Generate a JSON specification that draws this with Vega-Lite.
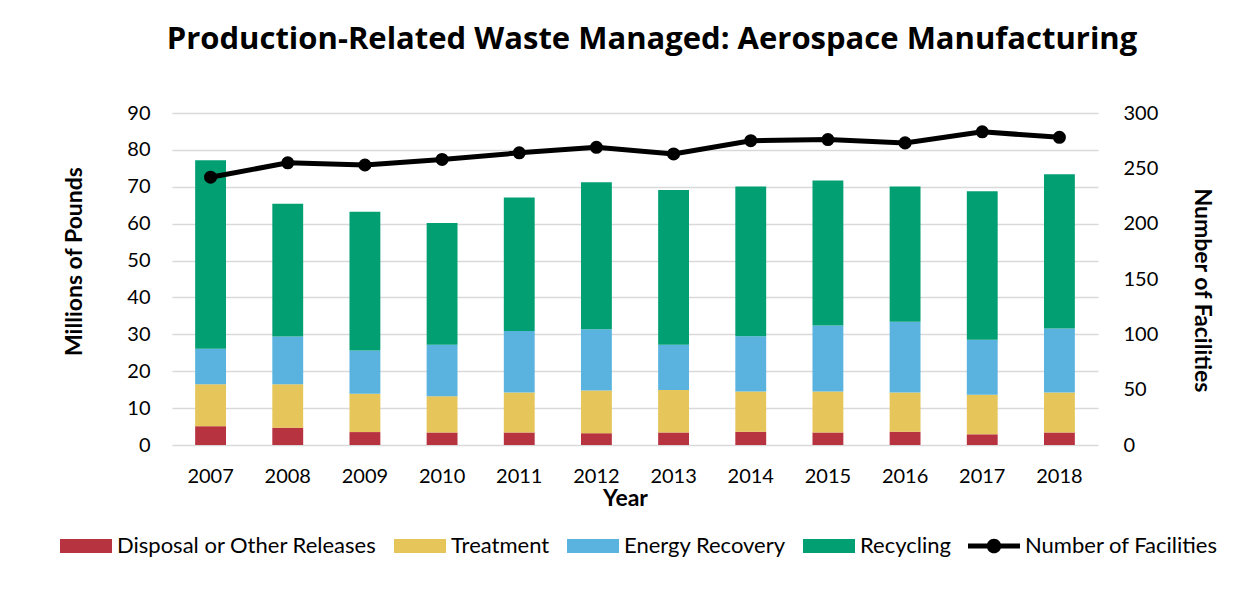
{
  "$schema": "https://vega.github.io/schema/vega-lite/v6.json",
  "width": 926,
  "height": 332,
  "autosize": "none",
  "padding": {"left": 172, "top": 113, "right": 146, "bottom": 145},
  "background": "white",
  "config": {
    "font": "Lato",
    "view": {"stroke": null},
    "axis": {"labelFont": "Lato", "titleFont": "Lato", "labelColor": "#000", "titleColor": "#000"},
    "legend": {"labelFont": "Lato"}
  },
  "title": {
    "text": "Production-Related Waste Managed: Aerospace Manufacturing",
    "fontSize": 31,
    "fontWeight": "bold",
    "font": "Open Sans",
    "color": "#000",
    "anchor": "middle",
    "offset": 47,
    "dx": 17
  },
  "datasets": {
    "waste": [
      {"year": "2007", "category": "Disposal or Other Releases", "order": 1, "value": 5.1},
      {"year": "2007", "category": "Treatment", "order": 2, "value": 11.4},
      {"year": "2007", "category": "Energy Recovery", "order": 3, "value": 9.6},
      {"year": "2007", "category": "Recycling", "order": 4, "value": 51.1},
      {"year": "2008", "category": "Disposal or Other Releases", "order": 1, "value": 4.7},
      {"year": "2008", "category": "Treatment", "order": 2, "value": 11.8},
      {"year": "2008", "category": "Energy Recovery", "order": 3, "value": 12.9},
      {"year": "2008", "category": "Recycling", "order": 4, "value": 36.0},
      {"year": "2009", "category": "Disposal or Other Releases", "order": 1, "value": 3.5},
      {"year": "2009", "category": "Treatment", "order": 2, "value": 10.4},
      {"year": "2009", "category": "Energy Recovery", "order": 3, "value": 11.7},
      {"year": "2009", "category": "Recycling", "order": 4, "value": 37.6},
      {"year": "2010", "category": "Disposal or Other Releases", "order": 1, "value": 3.4},
      {"year": "2010", "category": "Treatment", "order": 2, "value": 9.8},
      {"year": "2010", "category": "Energy Recovery", "order": 3, "value": 14.0},
      {"year": "2010", "category": "Recycling", "order": 4, "value": 33.0},
      {"year": "2011", "category": "Disposal or Other Releases", "order": 1, "value": 3.4},
      {"year": "2011", "category": "Treatment", "order": 2, "value": 10.8},
      {"year": "2011", "category": "Energy Recovery", "order": 3, "value": 16.7},
      {"year": "2011", "category": "Recycling", "order": 4, "value": 36.2},
      {"year": "2012", "category": "Disposal or Other Releases", "order": 1, "value": 3.2},
      {"year": "2012", "category": "Treatment", "order": 2, "value": 11.6},
      {"year": "2012", "category": "Energy Recovery", "order": 3, "value": 16.6},
      {"year": "2012", "category": "Recycling", "order": 4, "value": 39.8},
      {"year": "2013", "category": "Disposal or Other Releases", "order": 1, "value": 3.4},
      {"year": "2013", "category": "Treatment", "order": 2, "value": 11.5},
      {"year": "2013", "category": "Energy Recovery", "order": 3, "value": 12.3},
      {"year": "2013", "category": "Recycling", "order": 4, "value": 41.9},
      {"year": "2014", "category": "Disposal or Other Releases", "order": 1, "value": 3.6},
      {"year": "2014", "category": "Treatment", "order": 2, "value": 10.9},
      {"year": "2014", "category": "Energy Recovery", "order": 3, "value": 15.0},
      {"year": "2014", "category": "Recycling", "order": 4, "value": 40.6},
      {"year": "2015", "category": "Disposal or Other Releases", "order": 1, "value": 3.4},
      {"year": "2015", "category": "Treatment", "order": 2, "value": 11.1},
      {"year": "2015", "category": "Energy Recovery", "order": 3, "value": 17.9},
      {"year": "2015", "category": "Recycling", "order": 4, "value": 39.3},
      {"year": "2016", "category": "Disposal or Other Releases", "order": 1, "value": 3.6},
      {"year": "2016", "category": "Treatment", "order": 2, "value": 10.6},
      {"year": "2016", "category": "Energy Recovery", "order": 3, "value": 19.2},
      {"year": "2016", "category": "Recycling", "order": 4, "value": 36.7},
      {"year": "2017", "category": "Disposal or Other Releases", "order": 1, "value": 2.9},
      {"year": "2017", "category": "Treatment", "order": 2, "value": 10.7},
      {"year": "2017", "category": "Energy Recovery", "order": 3, "value": 14.9},
      {"year": "2017", "category": "Recycling", "order": 4, "value": 40.3},
      {"year": "2018", "category": "Disposal or Other Releases", "order": 1, "value": 3.4},
      {"year": "2018", "category": "Treatment", "order": 2, "value": 10.8},
      {"year": "2018", "category": "Energy Recovery", "order": 3, "value": 17.4},
      {"year": "2018", "category": "Recycling", "order": 4, "value": 41.8}
    ],
    "facilities": [
      {"year": "2007", "facilities": 242},
      {"year": "2008", "facilities": 255},
      {"year": "2009", "facilities": 253},
      {"year": "2010", "facilities": 258},
      {"year": "2011", "facilities": 264},
      {"year": "2012", "facilities": 269},
      {"year": "2013", "facilities": 263},
      {"year": "2014", "facilities": 275},
      {"year": "2015", "facilities": 276},
      {"year": "2016", "facilities": 273},
      {"year": "2017", "facilities": 283},
      {"year": "2018", "facilities": 278}
    ]
  },
  "layer": [
    {
      "data": {"name": "waste"},
      "mark": {"type": "bar"},
      "encoding": {
        "x": {
          "field": "year",
          "type": "ordinal",
          "scale": {"paddingInner": 0.6, "paddingOuter": 0.3},
          "axis": {
            "title": "Year",
            "labelAngle": 0,
            "ticks": false,
            "domain": false,
            "labelFontSize": 20,
            "labelPadding": 21,
            "titleFontSize": 23,
            "titleFontWeight": "bold",
            "titlePadding": 1,
            "titleX": 453
          }
        },
        "y": {
          "field": "value",
          "type": "quantitative",
          "stack": "zero",
          "scale": {"domain": [0, 90]},
          "axis": {
            "title": "Millions of Pounds",
            "values": [0, 10, 20, 30, 40, 50, 60, 70, 80, 90],
            "grid": true,
            "gridColor": "#d9d9d9",
            "gridWidth": 1.5,
            "domain": false,
            "ticks": false,
            "labelFontSize": 20,
            "labelPadding": 22,
            "titleFontSize": 23,
            "titleFontWeight": "bold",
            "titlePadding": 40,
            "titleY": 148
          }
        },
        "color": {
          "field": "category",
          "type": "nominal",
          "scale": {
            "domain": ["Disposal or Other Releases", "Treatment", "Energy Recovery", "Recycling", "Number of Facilities"],
            "range": ["#b83340", "#e6c55a", "#5ab3de", "#029f73", "#000000"]
          },
          "legend": {
            "title": null,
            "orient": "none",
            "legendX": -112,
            "legendY": 407,
            "direction": "horizontal",
            "labelFontSize": 22,
            "labelColor": "#000",
            "labelLimit": 0,
            "labelOffset": 5,
            "columnPadding": 17,
            "symbolType": "M-1,-0.27H1V0.27H-1Z",
            "symbolSize": 2704,
            "encode": {
              "symbols": {
                "update": {
                  "shape": {"signal": "datum.value === 'Number of Facilities' ? 'M-1,-0.1H1V0.1H-1Z M-0.28,0A0.28,0.28 0 1,1 0.28,0A0.28,0.28 0 1,1 -0.28,0Z' : 'M-1,-0.27H1V0.27H-1Z'"},
                  "fill": {"scale": "color", "field": "value"},
                  "opacity": {"value": 1},
                  "strokeWidth": {"value": 0}
                }
              }
            }
          }
        },
        "order": {"field": "order", "type": "quantitative"}
      }
    },
    {
      "data": {"name": "facilities"},
      "encoding": {
        "x": {"field": "year", "type": "ordinal"},
        "y": {
          "field": "facilities",
          "type": "quantitative",
          "scale": {"domain": [0, 300]},
          "axis": {
            "orient": "right",
            "title": "Number of Facilities",
            "values": [0, 50, 100, 150, 200, 250, 300],
            "grid": false,
            "domain": false,
            "ticks": false,
            "labelFontSize": 20,
            "labelPadding": 25,
            "titleFontSize": 23,
            "titleFontWeight": "bold",
            "titlePadding": 32,
            "titleY": 177
          }
        },
        "color": {"datum": "Number of Facilities"}
      },
      "layer": [
        {"mark": {"type": "line", "strokeWidth": 5}},
        {"mark": {"type": "point", "filled": true, "size": 170, "opacity": 1}}
      ]
    }
  ],
  "resolve": {"scale": {"y": "independent"}}
}
